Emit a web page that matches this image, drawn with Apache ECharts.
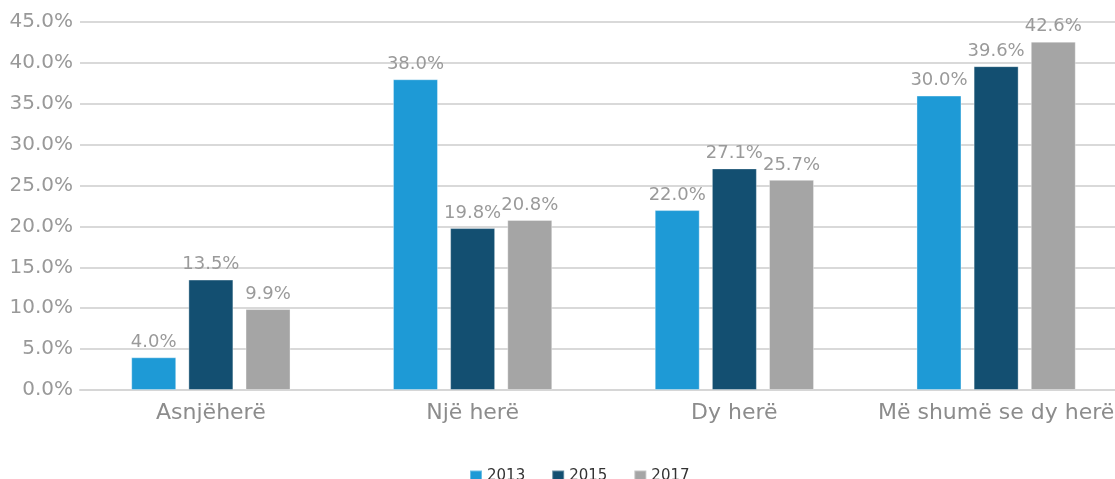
<!DOCTYPE html>
<html><head><meta charset="utf-8">
<script src="https://cdn.jsdelivr.net/npm/echarts@6/dist/echarts.min.js"></script>
<style>html,body{margin:0;padding:0;background:#fff}#c{width:1115px;height:479px}</style>
</head><body><div id="c"></div>
<script>
const categories = ["Asnjëherë", "Një herë", "Dy herë", "Më shumë se dy herë"];
const seriesNames = ["2013", "2015", "2017"];
const values2013 = [4.0, 38.0, 22.0, 36.0];
const values2015 = [13.5, 19.8, 27.1, 39.6];
const values2017 = [9.9, 20.8, 25.7, 42.6];
const labels2013 = ["4.0%", "38.0%", "22.0%", "30.0%"];
const labels2015 = ["13.5%", "19.8%", "27.1%", "39.6%"];
const labels2017 = ["9.9%", "20.8%", "25.7%", "42.6%"];
const colors = ["#1E9AD6", "#134F71", "#A5A5A5"];

const chart = echarts.init(document.getElementById('c'));
const font = '"DejaVu Sans", sans-serif';
function mk(name, vals, labs, color) {
  return {
    name, type: 'bar', data: vals, barWidth: 45, barGap: '27%',
    itemStyle: { color, borderColor: 'rgba(255,255,255,0.35)', borderWidth: 1 },
    label: { show: true, position: 'top', distance: 6, color: '#9a9a9a', fontSize: 18, fontFamily: font,
      formatter: p => labs[p.dataIndex] }
  };
}
chart.setOption({
  animation: false,
  textStyle: { fontFamily: font },
  grid: { left: 80, width: 1047, top: 22, bottom: 89, containLabel: false, outerBoundsMode: 'none' },
  legend: {
    top: 464, left: 464, itemWidth: 12, itemHeight: 12, itemGap: 26, icon: 'rect',
    textStyle: { color: '#333', fontSize: 15, fontFamily: font },
    data: seriesNames
  },
  xAxis: {
    type: 'category', data: categories,
    axisLine: { lineStyle: { color: '#d6d6d6', width: 2 } },
    axisTick: { show: false },
    axisLabel: { interval: 0, hideOverlap: false, color: '#8c8c8c', fontSize: 22, margin: 12, fontFamily: font }
  },
  yAxis: {
    type: 'value', min: 0, max: 45, interval: 5,
    axisLine: { show: false }, axisTick: { show: false },
    splitLine: { lineStyle: { color: '#d9d9d9', width: 2 } },
    axisLabel: { color: '#999', fontSize: 20, margin: 7, fontFamily: font, formatter: v => v.toFixed(1) + '%' }
  },
  series: [
    mk(seriesNames[0], values2013, labels2013, colors[0]),
    mk(seriesNames[1], values2015, labels2015, colors[1]),
    mk(seriesNames[2], values2017, labels2017, colors[2])
  ]
});
</script></body></html>
